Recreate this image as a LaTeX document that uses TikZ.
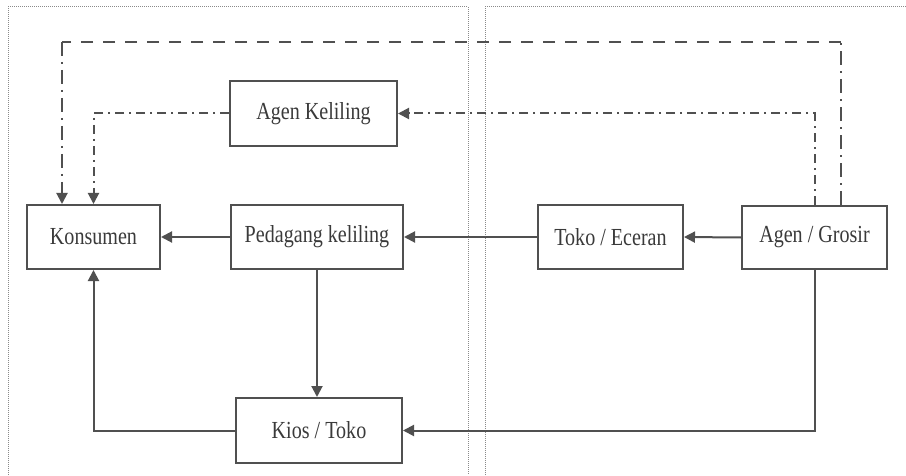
\documentclass[tikz,border=0pt]{standalone}
\usepackage{fontspec}
\setmainfont{Liberation Serif}[FakeStretch=0.82]
\usetikzlibrary{arrows.meta}
\definecolor{lc}{HTML}{505050}
\definecolor{tc}{HTML}{3A3A3A}
\definecolor{pc}{HTML}{8A8A8A}
\tikzset{
  box/.style={draw=lc, line width=2pt, rectangle, inner sep=0pt, text=tc,
    font=\fontsize{24.5}{28}\selectfont},
  flow/.style={draw=lc, line width=2pt, -{Triangle[length=11pt,width=11pt]}},
  plain/.style={draw=lc, line width=2pt},
  dd/.style={dash pattern=on 9pt off 5pt on 2pt off 5pt},
  dv/.style={dash pattern=on 14pt off 6pt on 2pt off 6pt},
  ds/.style={dash pattern=on 12pt off 10pt},
  panel/.style={draw=pc, line width=1pt, dash pattern=on 1pt off 1pt},
}
\begin{document}
\begin{tikzpicture}[x=1pt,y=1pt]
\useasboundingbox (0,0) rectangle (906,475);
% panels
\draw[panel] (8,0) -- (8,468) -- (468,468) -- (468,0);
\draw[panel] (485,0) -- (485,468) -- (906,468);
% nodes
\node[box, minimum width=133pt, minimum height=64pt] (ko) at (93.5,238) {Konsumen};
\node[box, minimum width=167pt, minimum height=65pt] (ak) at (313.5,361.5) {Agen Keliling};
\node[box, minimum width=172pt, minimum height=64pt] (pk) at (317,238) {Pedagang keliling};
\node[box, minimum width=145pt, minimum height=64pt] (te) at (610.5,238) {Toko / Eceran};
\node[box, minimum width=145pt, minimum height=63pt] (ag) at (814.5,237.5) {Agen / Grosir};
\node[box, minimum width=166pt, minimum height=65pt] (ki) at (319,44.5) {Kios / Toko};
% coordinates
\coordinate (t1) at (841,433);
\coordinate (t2) at (62,433);
% solid flows
\draw[flow] (pk.west) -- (ko.east);
\draw[flow] (te.west) -- (pk.east);
\draw[flow] (ag.west) -- (te.east);
\draw[flow] (pk.south) -- (pk.south |- ki.north);
\draw[flow] (ki.west) -| (ko.south);
\draw[flow] (ag.south) |- (ki.east);
% dashed outer loop
\draw[plain, dv] (ag.north -| t1) -- (t1);
\draw[plain, ds] (t1) -- (t2);
\draw[flow, dv] (t2) -- (t2 |- ko.north);
% agen keliling loop
\draw[flow, dd] (ag.north) |- (ak.east);
\draw[flow, dd] (ak.west) -| (ko.north);
\end{tikzpicture}
\end{document}
